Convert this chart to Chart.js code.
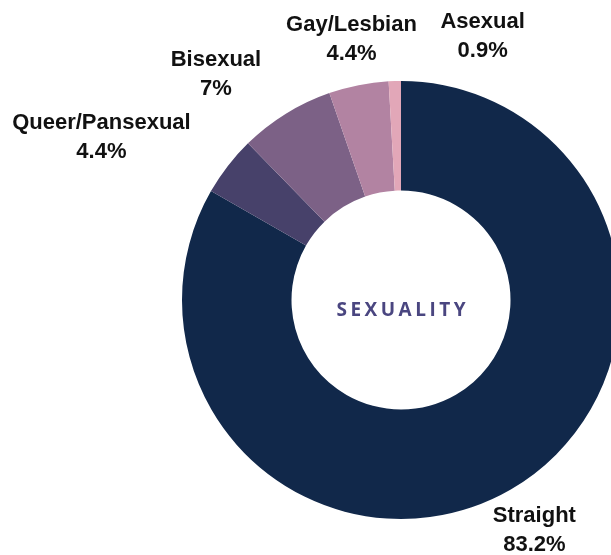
<!DOCTYPE html>
<html>
<head>
<meta charset="utf-8">
<script src="https://cdn.jsdelivr.net/npm/chart.js@4"></script>
<style>
  html, body { margin: 0; padding: 0; background: #fff; overflow: hidden; }
  #wrap { width: 611px; height: 555px; overflow: hidden; }
</style>
</head>
<body>
<div id="wrap"><canvas id="grafico" width="640" height="555"></canvas></div>
<script>
const categories = ['Straight', 'Queer/Pansexual', 'Bisexual', 'Gay/Lesbian', 'Asexual'];
const shares = [83.2, 4.4, 7, 4.4, 0.9];
const colors = ['#11284a', '#47416a', '#7c6186', '#b283a2', '#e2a7b8'];

// how each label block sits against its anchor point
const labelPlace = [
  { align: 'center', dx: 0, dy: 0 },
  { align: 'right', dx: 0, dy: 0 },
  { align: 'right', dx: 0, dy: 1 },
  { align: 'center', dx: 2, dy: 0 },
  { align: 'left', dx: 47, dy: 2 }
];

const sliceLabels = {
  id: 'sliceLabels',
  afterDatasetsDraw(chart) {
    const ctx = chart.ctx;
    const meta = chart.getDatasetMeta(0);
    ctx.save();
    ctx.font = 'bold 22px "Liberation Sans", Arial, sans-serif';
    ctx.fillStyle = '#111';
    ctx.textAlign = 'center';
    ctx.textBaseline = 'middle';
    meta.data.forEach((arc, i) => {
      const p = arc.getProps(['x', 'y', 'startAngle', 'endAngle', 'outerRadius'], true);
      const mid = (p.startAngle + p.endAngle) / 2;
      const r = p.outerRadius + 47;
      const lines = [categories[i], shares[i] + '%'];
      const w = Math.max(...lines.map(t => ctx.measureText(t).width));
      const place = labelPlace[i];
      let x = p.x + Math.cos(mid) * r + place.dx;
      const y = p.y + Math.sin(mid) * r + place.dy;
      if (place.align === 'right') x -= w / 2;
      if (place.align === 'left') x += w / 2;
      ctx.fillText(lines[0], x, y - 14.5);
      ctx.fillText(lines[1], x, y + 14.5);
    });

    // centre title
    const a = chart.chartArea;
    ctx.font = 'bold 19px "Open Sans", Lato, sans-serif';
    ctx.fillStyle = '#4a4680';
    ctx.letterSpacing = '3.5px';
    ctx.fillText('SEXUALITY', (a.left + a.right) / 2 + 1.75, (a.top + a.bottom) / 2 + 11);
    ctx.restore();
  }
};

const config = {
  type: 'doughnut',
  data: {
    labels: categories,
    datasets: [{
      data: shares,
      backgroundColor: colors,
      borderWidth: 0
    }]
  },
  options: {
    responsive: false,
    animation: false,
    cutout: '50%',
    layout: {
      padding: { left: 182, right: 20, top: 81, bottom: 36 }
    },
    plugins: {
      legend: { display: false },
      tooltip: { enabled: false }
    }
  },
  plugins: [sliceLabels]
};

const meuGrafico = new Chart(document.getElementById('grafico'), config);
</script>
</body>
</html>
